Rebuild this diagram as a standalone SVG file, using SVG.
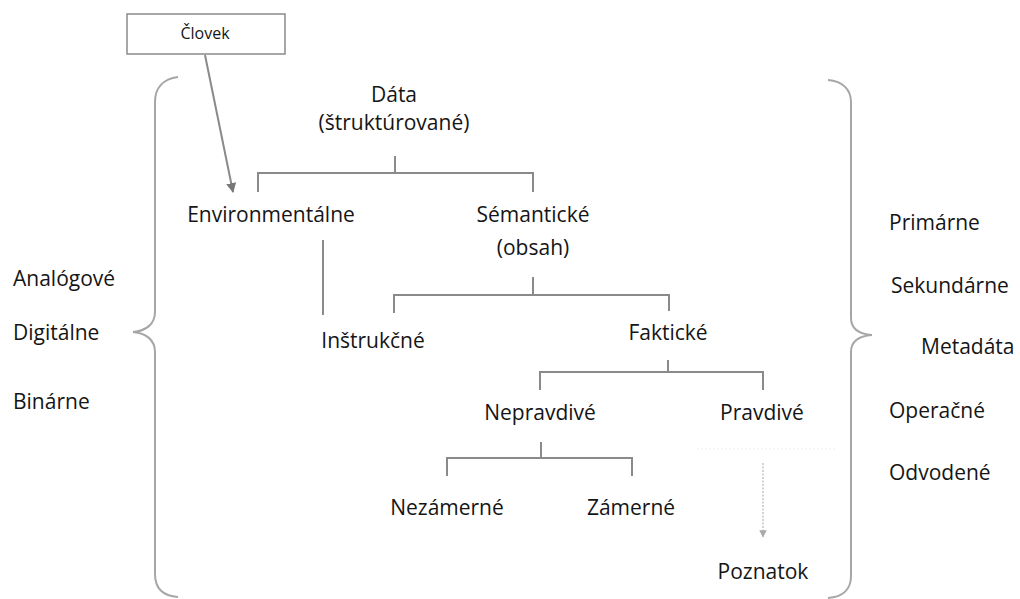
<svg xmlns="http://www.w3.org/2000/svg" width="1020" height="599" viewBox="0 0 1020 599">
<defs>
<style>
.t{font-family:"Open Sans","Liberation Sans",sans-serif;font-size:21px;fill:#151515}
.c{text-anchor:middle}
.ln{fill:none;stroke:#8a8a8a;stroke-width:2}
.br{fill:none;stroke:#a6a6a6;stroke-width:2}
</style>
<marker id="ah" viewBox="0 0 10 10" refX="9" refY="5" markerWidth="5" markerHeight="5" orient="auto">
<path d="M0,0 L10,5 L0,10 z" fill="#777"/>
</marker>
<marker id="ah2" viewBox="0 0 10 10" refX="9" refY="5" markerWidth="5" markerHeight="5" orient="auto">
<path d="M0,0 L10,5 L0,10 z" fill="#aaa"/>
</marker>
</defs>
<rect width="1020" height="599" fill="#fff"/>

<g id="connectors">
<line class="ln" x1="205" y1="55" x2="233" y2="192" stroke="#777" marker-end="url(#ah)"/>
<path class="ln" d="M395,156 V173 M258,192 V173 H533 V192"/>
<path class="ln" d="M323,240 V315"/>
<path class="ln" d="M533,277 V295 M394,313 V295 H669 V311"/>
<path class="ln" d="M668,360 V372 M540,390 V372 H763 V390"/>
<path class="ln" d="M541,442 V458 M447,476 V458 H632 V476"/>
<line x1="697" y1="449" x2="835" y2="449" stroke="#f3f3f3" stroke-width="1.5" stroke-dasharray="2 2"/>
<line x1="763" y1="463" x2="763" y2="537" stroke="#c4c4c4" stroke-width="1.5" stroke-dasharray="2 1.5" marker-end="url(#ah2)"/>
</g>

<g id="braces">
<path class="br" d="M178,77 C163,79 155,88 155,102 V312 C155,324 146,331 133,332 C146,333 155,340 155,352 V574 C155,588 163,596 178,597"/>
<path class="br" d="M828,80 C843,81 851,90 851,102 V318 C851,329 859,334 872,335 C859,336 851,341 851,352 V576 C851,589 843,597 828,598"/>
</g>

<g id="clovek">
<rect x="127" y="14" width="158" height="40" fill="#fff" stroke="#8a8a8a" stroke-width="1.5"/>
<text class="t c" x="205" y="39" style="font-size:16px">Človek</text>
</g>
<g id="data"><text class="t c" x="394" y="102">Dáta</text><text class="t c" x="394" y="130">(štruktúrované)</text></g>
<g id="environmentalne"><text class="t c" x="271" y="222">Environmentálne</text></g>
<g id="semanticke"><text class="t c" x="533" y="222">Sémantické</text><text class="t c" x="533" y="255">(obsah)</text></g>
<g id="instrukcne"><text class="t c" x="373" y="348">Inštrukčné</text></g>
<g id="fakticke"><text class="t c" x="668" y="340">Faktické</text></g>
<g id="nepravdive"><text class="t c" x="540" y="420">Nepravdivé</text></g>
<g id="pravdive"><text class="t c" x="762" y="420">Pravdivé</text></g>
<g id="nezamerne"><text class="t c" x="447" y="515">Nezámerné</text></g>
<g id="zamerne"><text class="t c" x="631" y="515">Zámerné</text></g>
<g id="poznatok"><text class="t c" x="763" y="579">Poznatok</text></g>

<g id="left-labels">
<text class="t" x="13" y="286">Analógové</text>
<text class="t" x="13" y="340">Digitálne</text>
<text class="t" x="13" y="409">Binárne</text>
</g>
<g id="right-labels">
<text class="t" x="889" y="230">Primárne</text>
<text class="t" x="891" y="293">Sekundárne</text>
<text class="t" x="921" y="354">Metadáta</text>
<text class="t" x="889" y="418">Operačné</text>
<text class="t" x="889" y="480">Odvodené</text>
</g>
</svg>
